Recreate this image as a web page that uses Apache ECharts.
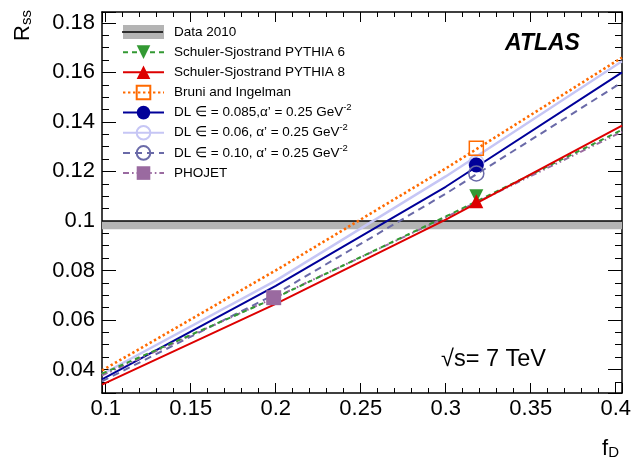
<!DOCTYPE html>
<html>
<head>
<meta charset="utf-8">
<script src="https://cdn.jsdelivr.net/npm/echarts@6/dist/echarts.min.js"></script>
<style>
  html, body { margin: 0; padding: 0; background: #fff; }
  #chart { width: 644px; height: 460px; }
</style>
</head>
<body>
<div id="chart"></div>
<script>
// ---------- data ----------
const xRange = [0.0978, 0.4037];
const yRange = [0.0305, 0.1844];

// f_D positions where the model curves were read
const curveX = [0.0978, 0.2, 0.3, 0.4037];

// R_ss of each model curve at curveX
const py6Curve    = [0.0383, 0.0690, 0.1018, 0.1368];
const py8Curve    = [0.0339, 0.0665, 0.1005, 0.1385];
const bruniCurve  = [0.0396, 0.0800, 0.1212, 0.1660];
const dl085Curve  = [0.0360, 0.0738, 0.1138, 0.1600];
const dl006Curve  = [0.0381, 0.0759, 0.1180, 0.1645];
const dl010Curve  = [0.0352, 0.0705, 0.1110, 0.1560];
const phojetCurve = [0.0376, 0.0692, 0.1015, 0.1360];

// default-model predictions (markers): [f_D, R_ss]
const py6Point    = [0.318, 0.1100];
const py8Point    = [0.318, 0.1080];
const bruniPoint  = [0.318, 0.1294];
const dl085Point  = [0.318, 0.1226];
const dl006Point  = [0.318, 0.1236];
const dl010Point  = [0.318, 0.1192];
const phojetPoint = [0.1988, 0.0690];

// measured value and its band
const dataValue = 0.1000;
const dataBand  = [0.0966, 0.1000];

const names = [
  'Data 2010',
  'Schuler-Sjostrand PYTHIA 6',
  'Schuler-Sjostrand PYTHIA 8',
  'Bruni and Ingelman',
  'DL \u2208 = 0.085,\u03b1\u2019 = 0.25 GeV^-2',
  'DL \u2208 = 0.06, \u03b1\u2019 = 0.25 GeV^-2',
  'DL \u2208 = 0.10, \u03b1\u2019 = 0.25 GeV^-2',
  'PHOJET'
];

// ---------- styling ----------
const FONT = "'Liberation Sans', Arial, Helvetica, sans-serif";
const C = {
  py6: '#339933', py8: '#dd0000', bruni: '#ff6a00',
  dl085: '#000099', dl006: '#c6c6f5', dl010: '#6a6aa8', phojet: '#9a6aa0',
  band: '#b4b4b4'
};

function pairs(xs, ys) { return xs.map((x, i) => [x, ys[i]]); }

function curveSeries(name, ys, color, width, type, symbol, symbolSize, filled, rotate) {
  return {
    name: name, type: 'line', data: pairs(curveX, ys),
    xAxisIndex: 0, yAxisIndex: 0,
    showSymbol: false, symbol: symbol, symbolSize: symbolSize, symbolRotate: rotate || 0,
    lineStyle: { color: color, width: width, type: type },
    itemStyle: { color: filled ? color : 'rgba(255,255,255,0)', borderColor: color, borderWidth: filled ? 0 : 1.5 },
    silent: true, z: 3, animation: false
  };
}
function markerSeries(name, pt, color, symbol, size, filled, rotate) {
  return {
    name: name, type: 'scatter', data: [pt],
    xAxisIndex: 0, yAxisIndex: 0,
    symbol: symbol, symbolSize: size, symbolRotate: rotate || 0,
    itemStyle: { color: filled ? color : 'rgba(255,255,255,0)', borderColor: color, borderWidth: filled ? 0 : 1.5, opacity: 1 },
    silent: true, z: 5, animation: false
  };
}

const series = [
  {
    name: names[0], type: 'line', data: [[xRange[0], dataValue], [xRange[1], dataValue]],
    showSymbol: false, symbol: 'none',
    lineStyle: { color: '#000', width: 1.6 },
    itemStyle: { color: '#000' },
    markArea: {
      silent: true,
      itemStyle: { color: C.band, opacity: 1 },
      data: [[{ yAxis: dataBand[0] }, { yAxis: dataBand[1] }]]
    },
    z: 2, animation: false
  },
  curveSeries(names[4], dl085Curve, C.dl085, 2, 'solid', 'circle', 14, true),
  curveSeries(names[5], dl006Curve, C.dl006, 2.4, 'solid', 'circle', 14, false),
  curveSeries(names[6], dl010Curve, C.dl010, 2, [7, 5], 'circle', 14, false),
  curveSeries(names[3], bruniCurve, C.bruni, 2.6, [2.4, 2.6], 'rect', 13, false),
  curveSeries(names[7], phojetCurve, C.phojet, 2, [6, 3, 1.6, 3, 1.6, 3], 'rect', 13, true),
  curveSeries(names[1], py6Curve, C.py6, 2, [5, 4], 'triangle', 13, true, 180),
  curveSeries(names[2], py8Curve, C.py8, 2, 'solid', 'triangle', 13, true),
  markerSeries(names[5], dl006Point, C.dl006, 'circle', 15, false),
  markerSeries(names[4], dl085Point, C.dl085, 'circle', 15, true),
  markerSeries(names[6], dl010Point, C.dl010, 'circle', 15, false),
  markerSeries(names[3], bruniPoint, C.bruni, 'rect', 14, false),
  markerSeries(names[7], phojetPoint, C.phojet, 'rect', 15, true),
  markerSeries(names[1], py6Point, C.py6, 'triangle', 14, true, 180),
  markerSeries(names[2], py8Point, C.py8, 'triangle', 14, true)
];

function legendFormatter(name) {
  const k = name.indexOf('^');
  if (k < 0) return '{t|' + name + '}';
  return '{t|' + name.slice(0, k) + '}{sup|' + name.slice(k + 1) + '}';
}
function legendText(col) {
  return {
    color: col, fontFamily: FONT, fontSize: 13.5, padding: [0, 0, 0, 5],
    height: 20, lineHeight: 20,
    rich: {
      t: { fontSize: 13.5, fontFamily: FONT, color: col, lineHeight: 20, height: 20 },
      sup: { fontSize: 9.5, fontFamily: FONT, color: col, verticalAlign: 'top', lineHeight: 14 }
    }
  };
}

function xAxisCfg(pos) {
  return {
    type: 'value', position: pos, min: xRange[0], max: xRange[1], splitNumber: 6,
    axisLine: { show: true, onZero: false, lineStyle: { color: '#000', width: 1.5 } },
    axisTick: { show: true, inside: true, length: 10, lineStyle: { color: '#000', width: 1 } },
    minorTick: { show: true, splitNumber: 5, length: 5, lineStyle: { color: '#000', width: 1 } },
    splitLine: { show: false },
    axisLabel: pos === 'bottom'
      ? { show: true, fontSize: 22, color: '#000', fontFamily: FONT, margin: 5, showMinLabel: false, showMaxLabel: false }
      : { show: false },
    name: pos === 'bottom' ? '{f|f}{d|D}' : '',
    nameLocation: 'end', nameGap: -3,
    nameTextStyle: {
      align: 'right', verticalAlign: 'top', padding: [45, 0, 0, 0], color: '#000',
      rich: {
        f: { fontSize: 22, fontFamily: FONT, color: '#000' },
        d: { fontSize: 15, fontFamily: FONT, color: '#000', verticalAlign: 'bottom' }
      }
    }
  };
}
function yAxisCfg(pos) {
  return {
    type: 'value', position: pos, min: yRange[0], max: yRange[1], splitNumber: 8,
    axisLine: { show: true, onZero: false, lineStyle: { color: '#000', width: 1.5 } },
    axisTick: { show: true, inside: true, length: 14, lineStyle: { color: '#000', width: 1 } },
    minorTick: { show: true, splitNumber: 4, length: 7, lineStyle: { color: '#000', width: 1 } },
    splitLine: { show: false },
    axisLabel: pos === 'left'
      ? { show: true, fontSize: 22, color: '#000', fontFamily: FONT, margin: 7, showMinLabel: false, showMaxLabel: false }
      : { show: false },
    name: pos === 'left' ? '{r|R}{s|ss}' : '',
    nameLocation: 'end', nameRotate: 90, nameGap: 2,
    nameTextStyle: {
      align: 'right', verticalAlign: 'bottom', padding: [0, 0, 68, 0], color: '#000',
      rich: {
        r: { fontSize: 22, fontFamily: FONT, color: '#000' },
        s: { fontSize: 15, fontFamily: FONT, color: '#000', verticalAlign: 'bottom' }
      }
    }
  };
}

const chart = echarts.init(document.getElementById('chart'), null, { renderer: 'canvas' });
chart.setOption({
  animation: false,
  backgroundColor: '#fff',
  grid: { left: 102, right: 22, top: 12, bottom: 66, containLabel: false },
  xAxis: [xAxisCfg('bottom'), xAxisCfg('top')],
  yAxis: [yAxisCfg('left'), yAxisCfg('right')],
  legend: [
    {
      orient: 'vertical', left: 122, top: 22, padding: 0, itemWidth: 41, itemHeight: 17, itemGap: 0.15,
      selectedMode: false, symbolRotate: 'inherit',
      formatter: legendFormatter, textStyle: legendText('#000'),
      data: [
        { name: names[0], icon: 'path://M0,0L0.01,0M0,17L0.01,17M0,1.5L41,1.5L41,15.5L0,15.5Z',
          itemStyle: { color: C.band, borderWidth: 0, borderColor: 'rgba(0,0,0,0)' } },
        names[1], names[2], names[3], names[4], names[5], names[6], names[7]
      ]
    },
    {
      orient: 'vertical', left: 122, top: 22, padding: 0, itemWidth: 41, itemHeight: 17, itemGap: 0.15,
      selectedMode: false, formatter: legendFormatter, textStyle: legendText('rgba(0,0,0,0)'),
      data: [
        { name: names[0], icon: 'path://M0,0L0.01,0M0,17L0.01,17M0,7.8L41,7.8L41,9.2L0,9.2Z',
          itemStyle: { color: '#000', borderWidth: 0, borderColor: 'rgba(0,0,0,0)' } }
      ]
    }
  ],
  graphic: [
    { type: 'text', left: 505, top: 32, z: 100,
      style: { text: 'ATLAS', font: 'italic bold 23px ' + FONT, fill: '#000' } },
    { type: 'text', left: 441, top: 348, z: 100,
      style: { text: '\u221as= 7 TeV', font: '23.5px ' + FONT, fill: '#000' } }
  ],
  series: series
});
</script>
</body>
</html>
